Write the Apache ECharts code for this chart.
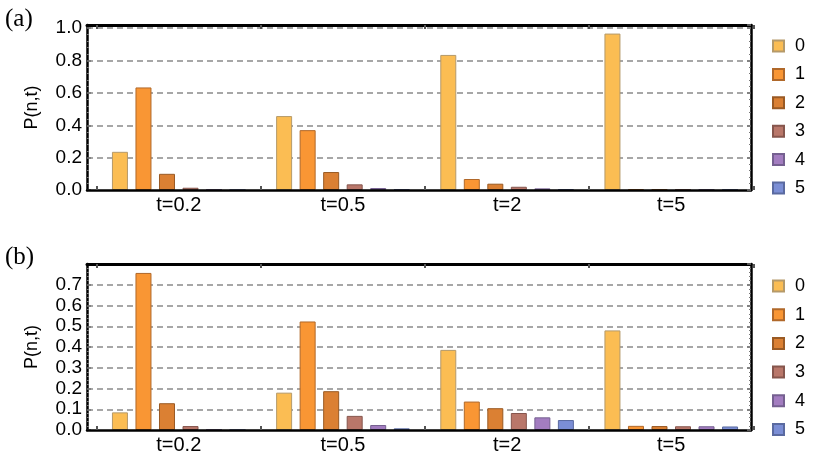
<!DOCTYPE html>
<html><head><meta charset="utf-8">
<script src="https://cdn.jsdelivr.net/npm/echarts@6/dist/echarts.min.js"></script>
<style>html,body{margin:0;padding:0;background:#fff}#c{width:814px;height:460px}</style>
</head><body><div id="c"></div>
<script>
const categories = ['t=0.2', 't=0.5', 't=2', 't=5'];
const seriesNames = ['0', '1', '2', '3', '4', '5'];
// panel (a)
const a0 = [0.236, 0.457, 0.835, 0.967];
const a1 = [0.634, 0.370, 0.068, 0.006];
const a2 = [0.100, 0.111, 0.039, 0.003];
const a3 = [0.014, 0.035, 0.020, 0.002];
const a4 = [0.002, 0.012, 0.010, 0.002];
const a5 = [0.000, 0.003, 0.005, 0.002];
// panel (b)
const b0 = [0.085, 0.180, 0.386, 0.480];
const b1 = [0.757, 0.523, 0.137, 0.020];
const b2 = [0.129, 0.187, 0.105, 0.019];
const b3 = [0.019, 0.068, 0.082, 0.018];
const b4 = [0.001, 0.024, 0.061, 0.018];
const b5 = [0.000, 0.008, 0.048, 0.017];
const yTicksA = {min: 0, max: 1.02, interval: 0.2};
const yTicksB = {min: 0, max: 0.8, interval: 0.1};

const colors = ['#FBBD53', '#F99634', '#DB8033', '#B9776A', '#A37DC0', '#7B8ED5'];
const borders = ['#B59A6A', '#B0682A', '#9A5A24', '#86564D', '#756090', '#5A6AA0'];
const aData = [a0, a1, a2, a3, a4, a5];
const bData = [b0, b1, b2, b3, b4, b5];

const FONT = 'Liberation Sans';
const panels = [
  {top: 25, height: 165, ticks: yTicksA, data: aData, legendTop: 36, legendGap: 8.4},
  {top: 264, height: 166, ticks: yTicksB, data: bData, legendTop: 276, legendGap: 8.7}
];

const grid = [], xAxis = [], yAxis = [], series = [], legend = [];
const frameX = (gi, pos, w) => ({gridIndex: gi, type: 'value', min: 0, max: 1, position: pos, z: 10,
  axisLine: {show: true, onZero: false, lineStyle: {color: '#000', width: w}},
  axisTick: {show: false}, axisLabel: {show: false}, splitLine: {show: false}});
const frameY = (gi, pos, t, withLabels) => ({gridIndex: gi, type: 'value', min: t.min, max: t.max, interval: t.interval,
  position: pos, z: withLabels ? 1 : 10,
  axisLine: {show: true, onZero: false, lineStyle: {color: '#000', width: 2.5}},
  axisTick: {show: true, inside: true, length: 4, lineStyle: {color: '#777', width: 1.5}},
  minorTick: {show: true, splitNumber: 5, length: 2, lineStyle: {color: '#777'}},
  axisLabel: withLabels ? {fontFamily: FONT, fontSize: 19, color: '#000', margin: 5, showMaxLabel: false,
    formatter: v => v.toFixed(1)} : {show: false},
  splitLine: withLabels ? {show: true, showMinLine: false, showMaxLine: false,
    lineStyle: {color: '#8a8a8a', width: 1.5, type: [6, 4]}} : {show: false}});
panels.forEach((p, i) => {
  grid.push({left: 87, right: 63, top: p.top, height: p.height});
  grid.push({left: 96.67, right: 60.67, top: p.top, height: p.height});
  const fg = i * 2, bg = i * 2 + 1;
  xAxis.push(frameX(fg, 'bottom', 2.5));
  xAxis.push(frameX(fg, 'top', 3));
  xAxis.push({gridIndex: bg, type: 'category', data: categories, position: 'bottom', z: 21,
    axisLine: {show: false},
    axisTick: {show: true, inside: true, length: 4, lineStyle: {color: '#555', width: 2}},
    axisLabel: {fontFamily: FONT, fontSize: 20, color: '#000', margin: 5},
    splitLine: {show: false}});
  xAxis.push({gridIndex: bg, type: 'category', data: categories, position: 'top', z: 21,
    axisLine: {show: false},
    axisTick: {show: true, inside: true, length: 4, lineStyle: {color: '#555', width: 2}},
    axisLabel: {show: false}, splitLine: {show: false}});
  const yl = frameY(fg, 'left', p.ticks, true);
  Object.assign(yl, {name: 'P(n,t)', nameLocation: 'middle', nameGap: 46, nameRotate: 90,
    nameTextStyle: {fontFamily: FONT, fontSize: 18, color: '#000'}});
  yAxis.push(yl);
  yAxis.push(frameY(fg, 'right', p.ticks, false));
  yAxis.push({gridIndex: bg, type: 'value', min: p.ticks.min, max: p.ticks.max, interval: p.ticks.interval, show: false});
  const yIdx = i * 3 + 2, xIdx = i * 4 + 2;
  seriesNames.forEach((n, k) => {
    series.push({type: 'bar', name: n, xAxisIndex: xIdx, yAxisIndex: yIdx, data: p.data[k],
      barWidth: 16, barGap: '47%',
      itemStyle: {color: colors[k], borderColor: borders[k], borderWidth: 1}, animation: false});
  });
  legend.push({orient: 'vertical', left: 772, top: p.legendTop, padding: 0, itemWidth: 11, itemHeight: 11, icon: 'rect',
    itemGap: p.legendGap, data: seriesNames, selectedMode: false,
    textStyle: {fontFamily: FONT, fontSize: 18, color: '#000', lineHeight: 20, padding: [0, 0, 0, 6]}});
});
const chart = echarts.init(document.getElementById('c'), null, {renderer: 'canvas'});
chart.setOption({
  animation: false,
  title: [
    {text: '(a)', left: 0, top: 2, textStyle: {fontFamily: 'Liberation Serif', fontSize: 25, fontWeight: 'normal', color: '#000'}},
    {text: '(b)', left: 0, top: 240, textStyle: {fontFamily: 'Liberation Serif', fontSize: 25, fontWeight: 'normal', color: '#000'}}
  ],
  grid, xAxis, yAxis, legend, series
});
</script></body></html>
